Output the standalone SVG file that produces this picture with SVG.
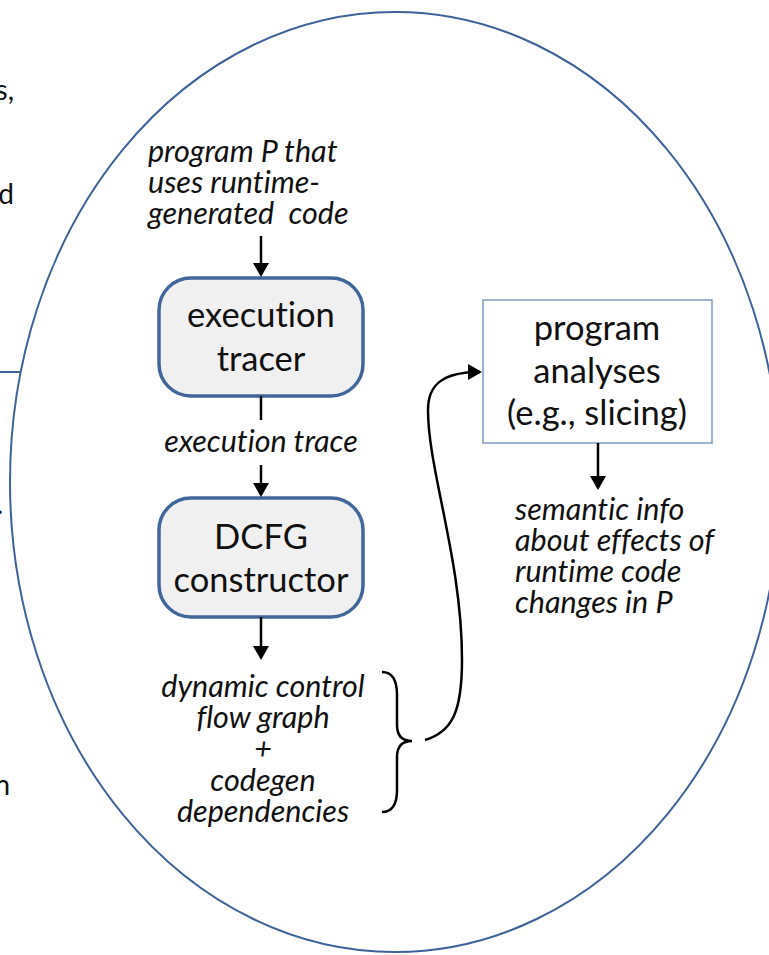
<svg xmlns="http://www.w3.org/2000/svg" width="769" height="955" viewBox="0 0 769 955">
  <defs>
    <style>
      text { font-variant-ligatures: none; }
      .note { font-family: Lato, "Liberation Sans", sans-serif; font-style: italic; font-size: 30.5px; fill: #111; }
      .label { font-family: Lato, "Liberation Sans", sans-serif; font-size: 34.5px; fill: #111; text-anchor: middle; }
      .edge { font-family: Lato, "Liberation Sans", sans-serif; font-size: 28px; fill: #111; text-anchor: end; }
      .step { fill: #f0f0f0; stroke: #41679a; stroke-width: 3.5; }
      .tool { fill: #ffffff; stroke: #7f9cc2; stroke-width: 1.5; }
      .wire { fill: none; stroke: #000; stroke-width: 2.5; }
      .frame { fill: none; stroke: #3d6398; stroke-width: 2; }
    </style>
    <marker id="head" viewBox="0 0 14 16" refX="12" refY="8" markerWidth="14" markerHeight="16" markerUnits="userSpaceOnUse" orient="auto">
      <path d="M0,0 L14,8 L0,16 z" fill="#000"/>
    </marker>
  </defs>

  <rect width="769" height="955" fill="#fff"/>

  <!-- clipped neighbouring slide content at the left margin -->
  <g id="margin">
    <text class="edge" x="14" y="100">s,</text>
    <text class="edge" x="14" y="204">d</text>
    <text class="edge" x="3" y="514">.</text>
    <text class="edge" x="10" y="795">n</text>
    <line x1="0" y1="372" x2="21" y2="372" stroke="#3d6398" stroke-width="2"/>
  </g>

  <!-- enclosing oval -->
  <g id="oval">
    <ellipse class="frame" cx="395" cy="482" rx="385" ry="470"/>
  </g>

  <g id="input">
    <text class="note" x="148" y="162">program P that</text>
    <text class="note" x="148" y="193">uses runtime-</text>
    <text class="note" x="148" y="224" xml:space="preserve">generated  code</text>
  </g>

  <g id="tracer">
    <rect class="step" x="159" y="278" width="204" height="118" rx="32" ry="32"/>
    <text class="label" x="261" y="327">execution</text>
    <text class="label" x="261" y="371">tracer</text>
  </g>

  <g id="trace">
    <text class="note" x="261" y="452" text-anchor="middle">execution trace</text>
  </g>

  <g id="constructor">
    <rect class="step" x="159" y="498" width="204" height="119" rx="32" ry="32"/>
    <text class="label" x="261" y="549">DCFG</text>
    <text class="label" x="261" y="592">constructor</text>
  </g>

  <g id="dcfg">
    <text class="note" x="263" y="697" text-anchor="middle">dynamic control</text>
    <text class="note" x="263" y="728" text-anchor="middle">flow graph</text>
    <text class="note" x="263" y="759" text-anchor="middle">+</text>
    <text class="note" x="263" y="791" text-anchor="middle">codegen</text>
    <text class="note" x="263" y="822" text-anchor="middle">dependencies</text>
  </g>

  <g id="analyses">
    <rect class="tool" x="483" y="300" width="229" height="143"/>
    <text class="label" x="597" y="340">program</text>
    <text class="label" x="597" y="383">analyses</text>
    <text class="label" x="597" y="425">(e.g., slicing)</text>
  </g>

  <g id="result">
    <text class="note" x="515" y="520">semantic info</text>
    <text class="note" x="515" y="551">about effects of</text>
    <text class="note" x="515" y="582">runtime code</text>
    <text class="note" x="515" y="613">changes in P</text>
  </g>

  <g id="connectors">
    <line class="wire" x1="261" y1="236" x2="261" y2="275" marker-end="url(#head)"/>
    <line class="wire" x1="261" y1="396" x2="261" y2="420"/>
    <line class="wire" x1="261" y1="465" x2="261" y2="495" marker-end="url(#head)"/>
    <line class="wire" x1="261" y1="617" x2="261" y2="658" marker-end="url(#head)"/>
    <line class="wire" x1="598" y1="443" x2="598" y2="488" marker-end="url(#head)"/>
    <!-- brace grouping the two outputs -->
    <path class="wire" stroke-width="2" d="M382,672 C392,672 397,680 397,695 L397,725 C397,736 402,741 412,741 C402,741 397,746 397,757 L397,790 C397,805 392,812 382,812"/>
    <!-- feed into program analyses -->
    <path class="wire" d="M425,740 C452,732 462,712 462,660 C462,560 428,470 428,410 C428,385 442,372 480,372" marker-end="url(#head)"/>
  </g>
</svg>
